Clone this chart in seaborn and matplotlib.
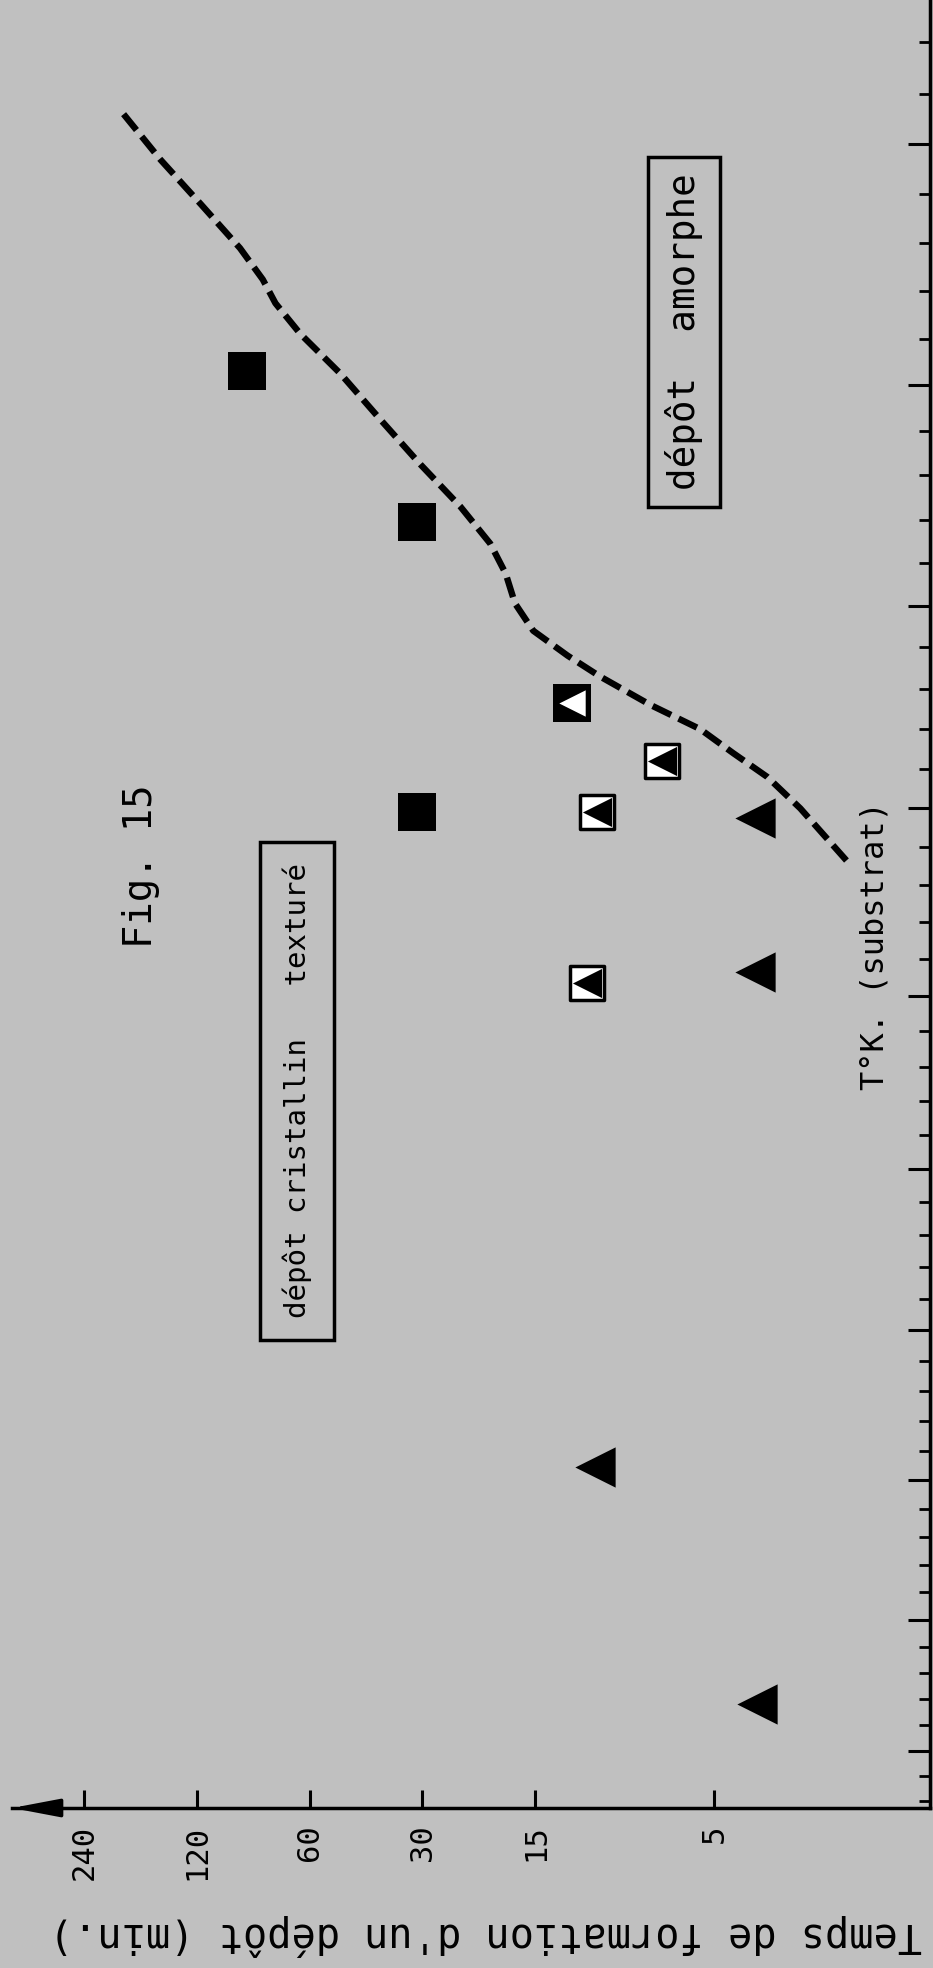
import matplotlib
matplotlib.use('Agg')
import matplotlib.pyplot as plt
import seaborn as sns
from matplotlib.ticker import FixedLocator, NullFormatter, NullLocator

# graduations de l'axe des temps (min.)
temps_graduations = [240, 120, 60, 30, 15, 5]
# graduations de l'axe T (K), sans etiquettes
temp_majeures = [220, 230, 240, 250, 260, 270, 280, 290, 300, 310]
temp_mineures = [212, 214, 216, 218, 222, 224, 226, 228, 232, 234, 236, 238,
                 242, 244, 246, 248, 252, 254, 256, 258, 262, 264, 266, 268,
                 272, 274, 276, 278, 282, 284, 286, 288, 292, 294, 296, 298,
                 302, 304, 306, 308, 312, 314]

# carres pleins
carre_t = [88, 31, 31]
carre_T = [229.4, 236.1, 250.2]
# carre noir + triangle blanc
mixte_noir_t = [12.0]
mixte_noir_T = [244.7]
# carre blanc + triangle noir
mixte_blanc_t = [6.9, 10.3, 10.9]
mixte_blanc_T = [247.6, 250.2, 259.3]
# triangles pleins
tri_t = [3.9, 3.9, 10.4, 3.85]
tri_T = [250.5, 258.7, 289.1, 306.4]

# limite amorphe / cristallin (tirets)
limite_t = [188, 150, 117, 92, 80, 74, 63.5, 49.7, 38.9, 30.4, 23.8, 19.8,
            18.0, 17.0, 15.2, 12.3, 10.1, 7.4, 5.45, 4.45, 3.61, 2.95, 2.2]
limite_T = [218.8, 220.6, 222.4, 224.2, 225.5, 226.5, 227.8, 229.5, 231.5,
            233.5, 235.4, 237.1, 238.5, 239.9, 241.2, 242.4, 243.4, 244.8,
            246.0, 247.2, 248.4, 250.0, 252.8]

fond = '#c0c0c0'

sns.set_theme(style='white')
plt.rcParams['font.family'] = ['DejaVu Sans Mono', 'DejaVu Sans']

fig = plt.figure(figsize=(9.33, 19.68), dpi=100, facecolor=fond)
ax = fig.add_axes([12 / 933, 1 - 1808 / 1968, 918 / 933, 1808 / 1968])
ax.set_facecolor(fond)

sns.lineplot(x=limite_t, y=limite_T, sort=False, estimator=None, color='black',
             linewidth=4.6, linestyle=(0, (3.2, 1.3)), ax=ax, zorder=2)

sns.scatterplot(x=carre_t, y=carre_T, marker='s', s=27 ** 2, color='black',
                linewidth=0, ax=ax, zorder=3)
sns.scatterplot(x=mixte_noir_t, y=mixte_noir_T, marker='s', s=27 ** 2, color='black',
                linewidth=0, ax=ax, zorder=3)
sns.scatterplot(x=mixte_noir_t, y=mixte_noir_T, marker='<', s=19 ** 2, color='white',
                linewidth=0, ax=ax, zorder=4)
sns.scatterplot(x=mixte_blanc_t, y=mixte_blanc_T, marker='s', s=25 ** 2, color='white',
                edgecolor='black', linewidth=2.5, ax=ax, zorder=3)
sns.scatterplot(x=mixte_blanc_t, y=mixte_blanc_T, marker='<', s=21 ** 2, color='black',
                linewidth=0, ax=ax, zorder=4)
sns.scatterplot(x=tri_t, y=tri_T, marker='<', s=29 ** 2, color='black',
                linewidth=0, ax=ax, zorder=3)

ax.set_xscale('log')
ax.set_yscale('function', functions=(lambda T: -1000.0 / T, lambda v: -1000.0 / v))
ax.set_xlim(373, 1.33)
ax.set_ylim(314.6, 214.4)

ax.xaxis.set_major_locator(FixedLocator(temps_graduations))
ax.xaxis.set_minor_locator(NullLocator())
ax.set_xticklabels([str(v) for v in temps_graduations])
ax.yaxis.set_major_locator(FixedLocator(temp_majeures))
ax.yaxis.set_minor_locator(FixedLocator(temp_mineures))
ax.yaxis.set_major_formatter(NullFormatter())
ax.yaxis.set_minor_formatter(NullFormatter())

for side in ['top', 'left']:
    ax.spines[side].set_visible(False)
for side in ['bottom', 'right']:
    ax.spines[side].set_color('black')
    ax.spines[side].set_linewidth(2.5)

ax.tick_params(axis='x', which='major', direction='in', length=13, width=2.2,
               color='black', pad=12, labelsize=22, labelrotation=90,
               bottom=True, top=False, labelcolor='black')
ax.tick_params(axis='y', which='major', direction='in', length=16, width=2.2,
               color='black', left=False, right=True, labelleft=False, labelright=False)
ax.tick_params(axis='y', which='minor', direction='in', length=8, width=2.0,
               color='black', left=False, right=True)

# fleche au bout de l'axe des temps
ax.annotate('', xy=(0, 0), xytext=(0.046, 0), xycoords='axes fraction',
            textcoords='axes fraction', annotation_clip=False,
            arrowprops=dict(arrowstyle='-|>,head_length=2.9,head_width=0.55',
                            mutation_scale=10, color='black', lw=2.5,
                            shrinkA=0, shrinkB=0))

ax.set_xlabel("Temps de formation d'un dépôt (min.)", rotation=180, fontsize=29,
              va='center', color='black')
ax.xaxis.set_label_coords(0.516, -0.0702)
ax.set_ylabel('')

ax.text(0.3105, 0.3966, 'dépôt cristallin   texturé', rotation=90, ha='center',
        va='center', fontsize=21, color='black', transform=ax.transAxes,
        bbox=dict(boxstyle='square,pad=0.75', fc=fond, ec='black', lw=2.5))
ax.text(0.732, 0.8164, 'dépôt  amorphe', rotation=90, ha='center', va='center',
        fontsize=27, color='black', transform=ax.transAxes,
        bbox=dict(boxstyle='square,pad=0.45', fc=fond, ec='black', lw=2.5))
ax.text(0.940, 0.477, 'T°K. (substrat)', rotation=90, ha='center', va='center',
        fontsize=23, color='black', transform=ax.transAxes)
ax.text(0.1405, 0.521, 'Fig. 15', rotation=90, ha='center', va='center',
        fontsize=28, color='black', transform=ax.transAxes)

fig.savefig('out.png', dpi=100, facecolor=fond)
